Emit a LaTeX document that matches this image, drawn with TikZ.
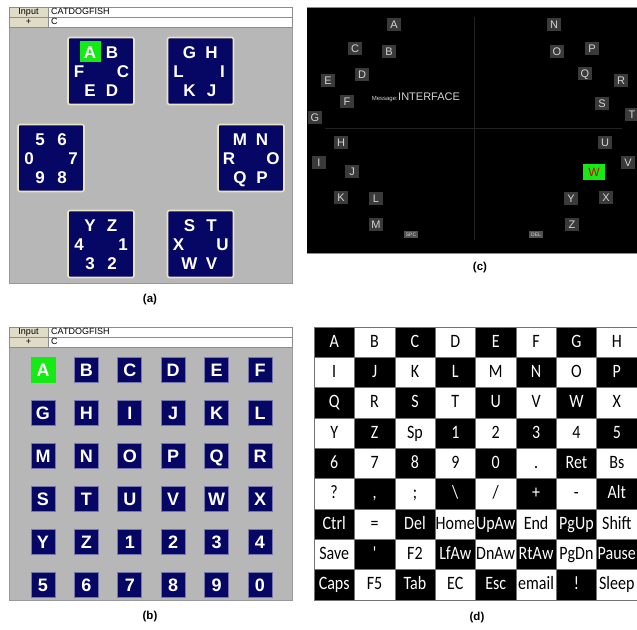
\documentclass[tikz,border=0pt]{standalone}
\usepackage{fontspec}
\setmainfont{Liberation Sans}
\newfontfamily\calfont{Carlito}
\usetikzlibrary{positioning}
\definecolor{panelgray}{RGB}{183,183,183}
\definecolor{navykey}{RGB}{6,6,100}
\definecolor{creamedge}{RGB}{232,228,196}
\definecolor{litgreen}{RGB}{20,235,20}
\definecolor{darkkey}{RGB}{58,58,58}
\definecolor{keytext}{RGB}{212,212,212}
\definecolor{hdrcell}{RGB}{224,220,200}
\definecolor{gridline}{RGB}{34,34,34}

\begin{document}
\begin{tikzpicture}[x=1pt,y=-1pt,
  panel/.style={fill=panelgray,draw=black!40,line width=0.8pt},
  hdrlab/.style={fill=hdrcell,draw=black!45,line width=0.5pt},
  hdrval/.style={fill=white,draw=black!45,line width=0.5pt},
  hdrtext/.style={inner sep=0pt,text height=6.5pt,text depth=1.9pt,font=\fontsize{9}{9}\selectfont},
  abox/.style={fill=navykey,draw=creamedge,line width=1.6pt,rounded corners=2pt,minimum width=66pt,minimum height=67pt},
  aletter/.style={inner sep=0pt,text height=12.2pt,text depth=0pt,text=white,font=\bfseries\fontsize{17}{17}\selectfont},
  ax-A/.style={fill=litgreen,minimum width=21pt,minimum height=21pt},
  bkey/.style={fill=navykey,draw=navykey!55!white,line width=0.8pt,minimum width=24pt,minimum height=25pt,inner sep=0pt,text height=13pt,text depth=0pt,text=white,font=\bfseries\fontsize{18}{18}\selectfont},
  bx-A/.style={fill=litgreen,draw=litgreen},
  ckey/.style={fill=darkkey,minimum width=14pt,minimum height=13pt,inner sep=0pt,text height=8pt,text depth=0pt,text=keytext,font=\fontsize{11}{11}\selectfont},
  cx-W/.style={fill=litgreen,text=red!85!black,minimum width=22pt,minimum height=16pt,text height=8.6pt,font=\fontsize{12}{12}\selectfont},
  csmall/.style={fill=black!68,minimum width=14pt,minimum height=7pt,inner sep=0pt,text=keytext,font=\fontsize{5}{5}\selectfont},
  dcell/.style={minimum width=40.4pt,minimum height=30.4pt,inner sep=0pt,text height=13pt,text depth=3pt,draw=black!55,line width=0.4pt,font=\calfont\fontsize{16}{16}\selectfont},
  caption/.style={font=\bfseries\fontsize{11.5}{11.5}\selectfont}]
\useasboundingbox (0,0) rectangle (637,629);
\fill[white] (0,0) rectangle (637,629);

\draw[panel] (9,7) rectangle (292,283);
\draw[panel] (9,327) rectangle (292,600);
\foreach \p/\t in {a/7,b/327} {
  \foreach \lab/\val [count=\i] in {Input/CATDOGFISH,+/C} {
    \draw[hdrlab] (9,{\t+10*\i-10}) rectangle (48,{\t+10*\i});
    \draw[hdrval] (48,{\t+10*\i-10}) rectangle (292,{\t+10*\i});
    \node[hdrtext] (hl-\p\i) at (28.5,{\t+10*\i-5}) {\lab};
    \node[hdrtext,anchor=west] (hv-\p\i) at (51,{\t+10*\i-5}) {\val};
  }
}

\foreach \bx/\cx/\cy in {1/101/71,2/200.5/71,3/51/158,4/251/158,5/101/244,6/200.5/244}
  \node[abox] (box\bx) at (\cx,\cy) {};
\foreach \bx/\ls in {1/{A,B,C,D,E,F},2/{G,H,I,J,K,L},3/{5,6,7,8,9,0},4/{M,N,O,P,Q,R},5/{Y,Z,1,2,3,4},6/{S,T,U,V,W,X}}
  \foreach \l [count=\i] in \ls
    \path (box\bx) ++({60*\i-180}:22) node[aletter,ax-\l/.try] (a-\l) {\l};

\foreach \row [count=\r] in {{A,B,C,D,E,F},{G,H,I,J,K,L},{M,N,O,P,Q,R},{S,T,U,V,W,X},{Y,Z,1,2,3,4},{5,6,7,8,9,0}}
  \foreach \l [count=\c] in \row
    \node[bkey,bx-\l/.try] (b-\l) at ({43.4*\c-0.4},{326.5+43*\r}) {\l};

\begin{scope}
\clip (0,0) rectangle (637,629);
\fill[black] (307,7) rectangle (645,253);
\draw[black!45,line width=1pt] (307,7) -- (645,7) (307,253) -- (645,253);
\draw[gridline,line width=1pt] (474,17) -- (474,240) (325,128) -- (622,128);
\foreach \l/\x/\y in {A/394/24,B/389/51,C/355/48,D/362/74,E/328/80,F/347/101,G/315/117,
    H/341/142,I/319/162,J/352/171,K/341/197,L/376/198,M/376/224,
    N/554/24,O/557/51,P/592/48,Q/585/73,R/621/80,S/602/103,T/632/114,
    U/605/142,V/628/162,W/594/172,X/606/197,Y/571/198,Z/572/224}
  \node[ckey,cx-\l/.try] (c-\l) at (\x,\y) {\l};
\node[csmall] (c-spc) at (411,234.5) {SPC};
\node[csmall] (c-del) at (536,234.5) {DEL};
\node[inner sep=0pt,text=keytext,font=\fontsize{6}{6}\selectfont,anchor=base east] (c-msg) at (398,100.5) {Message:};
\node[inner sep=0pt,text=keytext,font=\fontsize{11}{11}\selectfont,anchor=base west] (c-txt) at (c-msg.base east) {INTERFACE};

\foreach \row [count=\r from 0] in {{A,B,C,D,E,F,G,H},{I,J,K,L,M,N,O,P},{Q,R,S,T,U,V,W,X},
    {Y,Z,Sp,1,2,3,4,5},{6,7,8,9,0,.,Ret,Bs},{?,{,},;,\textbackslash,/,+,-,Alt},
    {Ctrl,=,Del,Home,UpAw,End,PgUp,Shift},{Save,',F2,LfAw,DnAw,RtAw,PgDn,Pause},
    {Caps,F5,Tab,EC,Esc,email,!,Sleep}}
  \foreach \l [count=\c] in \row {
    \pgfmathtruncatemacro\ink{100*mod(\r+\c,2)}
    \pgfmathtruncatemacro\paper{100-\ink}
    \node[dcell,fill=black!\ink,text=black!\paper] (d-\r-\c) at ({314+40.375*(\c-0.5)},{327+30.33*(\r+0.5)}) {\scalebox{1}[1.18]{\l}};
  }
\end{scope}

\node[caption] (cap-a) at (150,300) {(a)};
\node[caption] (cap-b) at (150,617) {(b)};
\node[caption] (cap-c) at (480,268) {(c)};
\node[caption] (cap-d) at (477,618) {(d)};
\end{tikzpicture}
\end{document}
